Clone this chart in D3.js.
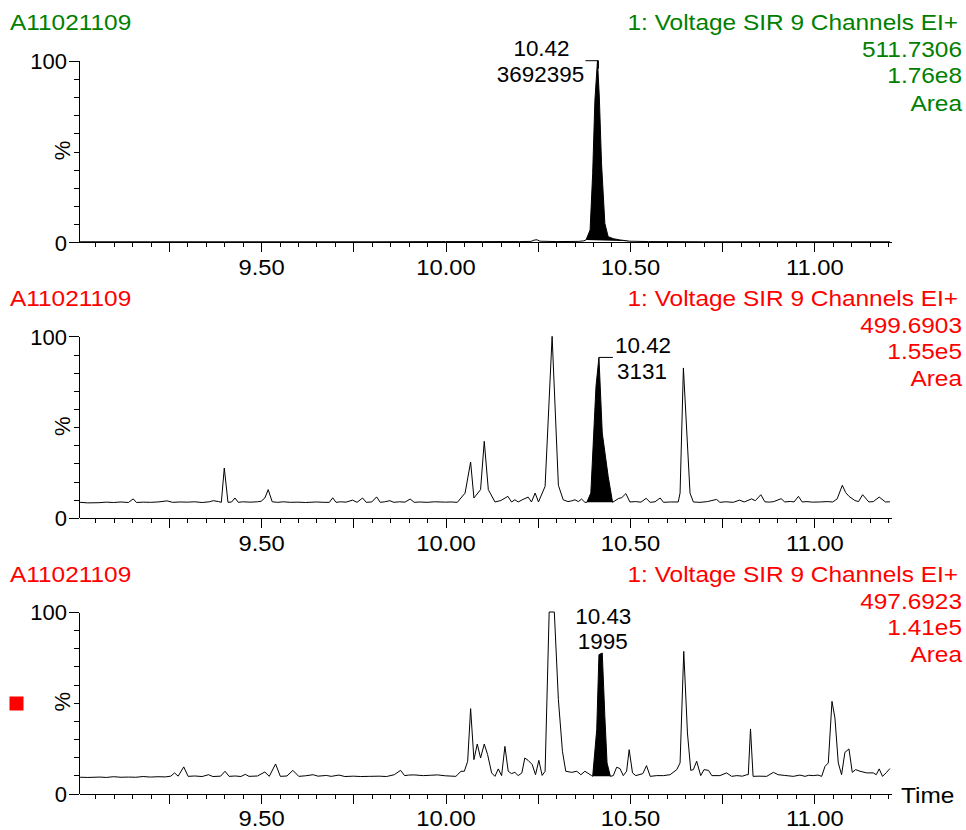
<!DOCTYPE html>
<html>
<head>
<meta charset="utf-8">
<script src="https://cdn.jsdelivr.net/npm/d3@7"></script>
<style>
  body { margin: 0; background: #fff; }
  svg { display: block; font-family: "Liberation Sans", Arial, sans-serif; }
</style>
</head>
<body>
<svg id="chart" width="966" height="830"></svg>
<script>
const sampleName = "A11021109";
const channelName = "1: Voltage SIR 9 Channels EI+";
const masses = ["511.7306", "499.6903", "497.6923"];
const intensities = ["1.76e8", "1.55e5", "1.41e5"];
const headerColors = ["#008000", "#ff0000", "#ff0000"];
const peakTimes = ["10.42", "10.42", "10.43"];
const peakAreas = ["3692395", "3131", "1995"];
const peakApex = [[10.412, 100], [10.416, 88.4], [10.425, 77.4]];
const fillRanges = [[10.381, 10.50], [10.383, 10.453], [10.399, 10.447]];
const xTickLabels = [9.5, 10.0, 10.5, 11.0];
const yTickLabels = [0, 100];

// [time (min), intensity %]
const trace1 = [
  [9.009, 0.3], [9.2, 0.3], [9.4, 0.3], [9.6, 0.3], [9.8, 0.3], [10.0, 0.4], [10.1, 0.4],
  [10.2, 0.4], [10.232, 0.5], [10.24, 1.2], [10.248, 1.4], [10.256, 0.6], [10.3, 0.4],
  [10.36, 0.5], [10.375, 0.8], [10.381, 1.3], [10.392, 6.8], [10.399, 38], [10.405, 78],
  [10.412, 100], [10.417, 80], [10.423, 43.5], [10.432, 10.4], [10.441, 3.1], [10.455, 2.0],
  [10.473, 1.3], [10.5, 0.6], [10.55, 0.4], [10.7, 0.3], [10.9, 0.3], [11.1, 0.3], [11.205, 0.3]
];

const trace2 = [
  [9.009, 8.6], [9.03, 8.3], [9.06, 8.4], [9.08, 8.7], [9.10, 8.5], [9.12, 8.8], [9.14, 8.5],
  [9.153, 10.5], [9.162, 8.5], [9.18, 8.7], [9.20, 8.6], [9.22, 8.8], [9.245, 9.4], [9.26, 8.6],
  [9.28, 8.8], [9.30, 8.7], [9.32, 8.9], [9.34, 8.5], [9.36, 8.9], [9.37, 9.5], [9.385, 9.0], [9.392, 8.6],
  [9.400, 27.5], [9.410, 8.6], [9.420, 8.8], [9.429, 11.0], [9.438, 8.6], [9.45, 8.9], [9.47, 8.7],
  [9.49, 8.9], [9.50, 9.2], [9.510, 11.0], [9.519, 15.6], [9.530, 8.9], [9.545, 8.6], [9.56, 8.9],
  [9.58, 8.6], [9.60, 8.7], [9.62, 8.5], [9.65, 8.8], [9.67, 8.6], [9.685, 8.6],
  [9.694, 11.1], [9.703, 8.6], [9.715, 8.9], [9.730, 8.7], [9.748, 9.8], [9.760, 8.6], [9.775, 11.0],
  [9.785, 8.6], [9.80, 8.8], [9.813, 11.6], [9.823, 8.6], [9.835, 8.9], [9.849, 9.5], [9.86, 8.6],
  [9.875, 8.9], [9.890, 8.7], [9.904, 10.4], [9.915, 8.6], [9.93, 8.8], [9.95, 8.6], [9.97, 8.9],
  [10.00, 8.7], [10.015, 8.8], [10.032, 8.6], [10.053, 13.7], [10.068, 30.8], [10.077, 11.0],
  [10.095, 15.6], [10.105, 42.2], [10.116, 15.6], [10.134, 8.8], [10.15, 9.6], [10.169, 11.9], [10.179, 8.8],
  [10.188, 10.0], [10.197, 8.8], [10.21, 10.2], [10.224, 11.5], [10.233, 8.8], [10.243, 13.7], [10.252, 8.8],
  [10.270, 17.4], [10.289, 100], [10.306, 18.0], [10.319, 10.0], [10.332, 9.0], [10.342, 9.4], [10.351, 10.0],
  [10.360, 9.0], [10.369, 10.4], [10.378, 8.6], [10.383, 8.6], [10.394, 13.7], [10.408, 72.4],
  [10.416, 88.4], [10.425, 46.8], [10.441, 22.9], [10.453, 8.6], [10.469, 10.7], [10.478, 11.2], [10.489, 13.4],
  [10.500, 8.8], [10.515, 9.0], [10.53, 8.7], [10.544, 10.8], [10.555, 8.6], [10.568, 8.9], [10.582, 11.0], [10.591, 8.6],
  [10.61, 8.8], [10.631, 8.8],
  [10.636, 13.7], [10.645, 82.6], [10.663, 13.7], [10.672, 8.8], [10.69, 8.6], [10.71, 9.0], [10.735, 10.2],
  [10.744, 8.6], [10.76, 8.9], [10.78, 8.6], [10.797, 9.8], [10.810, 8.8], [10.830, 10.5], [10.840, 9.5], [10.855, 12.8],
  [10.866, 8.9], [10.878, 8.7], [10.890, 9.0], [10.910, 10.6], [10.920, 8.8], [10.935, 9.1], [10.945, 8.8], [10.957, 11.9],
  [10.967, 8.8], [10.98, 9.0], [10.995, 8.7], [11.014, 8.8], [11.035, 9.0], [11.05, 8.8], [11.062, 10.5], [11.076, 18.0],
  [11.085, 14.0], [11.094, 11.9], [11.110, 9.6], [11.12, 9.0], [11.131, 12.8], [11.148, 8.8], [11.160, 9.0],
  [11.176, 11.5], [11.193, 8.8], [11.205, 8.9]
];

const trace3 = [
  [9.009, 9.0], [9.03, 8.9], [9.063, 9.1], [9.08, 8.9], [9.10, 9.3], [9.12, 9.0], [9.14, 9.1],
  [9.16, 9.0], [9.18, 9.4], [9.20, 9.1], [9.22, 9.3], [9.24, 9.2], [9.255, 9.6], [9.265, 11.4],
  [9.275, 9.6], [9.290, 14.7], [9.302, 9.5], [9.32, 9.7], [9.34, 9.4], [9.357, 10.4], [9.369, 9.4],
  [9.39, 9.6], [9.402, 12.3], [9.413, 9.5], [9.43, 9.7], [9.445, 9.4],
  [9.457, 10.6], [9.467, 9.5], [9.49, 9.7], [9.510, 11.9], [9.522, 9.5], [9.539, 16.3], [9.552, 9.5],
  [9.57, 9.7], [9.586, 12.8], [9.602, 9.5], [9.62, 9.8], [9.641, 10.4], [9.654, 9.6], [9.677, 10.0],
  [9.69, 9.5], [9.711, 10.2], [9.727, 9.4], [9.75, 9.6], [9.77, 9.4], [9.794, 9.5], [9.82, 9.6],
  [9.84, 9.4], [9.861, 10.4], [9.878, 12.8], [9.889, 9.9], [9.9, 10.2], [9.914, 10.3],
  [9.94, 9.9], [9.96, 10.1], [9.978, 10.3], [10.0, 9.8], [10.028, 9.5], [10.042, 12.3], [10.051, 12.3],
  [10.060, 17.8], [10.068, 46.8],
  [10.077, 18.7], [10.086, 27.3], [10.095, 19.6], [10.105, 27.3], [10.114, 21.5], [10.125, 11.4],
  [10.134, 9.5], [10.143, 13.6], [10.152, 9.9], [10.161, 26.0], [10.170, 12.3], [10.179, 11.0],
  [10.188, 11.7], [10.197, 9.9], [10.207, 11.4], [10.215, 19.6], [10.224, 18.3], [10.235, 16.0],
  [10.244, 10.4], [10.253, 18.3], [10.262, 10.0], [10.270, 12.3], [10.281, 100], [10.295, 100],
  [10.306, 51.7], [10.317, 23.3], [10.326, 12.3], [10.342, 11.7], [10.356, 12.3], [10.367, 10.4],
  [10.378, 12.3], [10.396, 9.9], [10.399, 9.5], [10.410, 35.2], [10.416, 76.5], [10.425, 77.4],
  [10.432, 42.5], [10.438, 16.9], [10.447, 9.5], [10.455, 9.9], [10.464, 14.5], [10.473, 13.8],
  [10.482, 9.9], [10.491, 12.3], [10.498, 24.2], [10.507, 11.4], [10.516, 9.9], [10.535, 11.0],
  [10.545, 15.4], [10.555, 9.5], [10.573, 9.9], [10.591, 9.9], [10.609, 10.4], [10.627, 13.2],
  [10.636, 16.9], [10.646, 78.3], [10.656, 33.4], [10.665, 12.8], [10.672, 13.2], [10.681, 17.8],
  [10.692, 9.9], [10.701, 13.2], [10.713, 12.8], [10.722, 9.9], [10.744, 9.9], [10.762, 11.4],
  [10.776, 9.5], [10.79, 9.9], [10.805, 9.6], [10.817, 10.4], [10.821, 10.4], [10.827, 35.6], [10.834, 9.5],
  [10.85, 9.6], [10.871, 9.5],
  [10.889, 11.7], [10.902, 10.4], [10.92, 10.0], [10.943, 9.5], [10.961, 10.2], [10.975, 9.5], [10.985, 10.1],
  [10.997, 9.9], [11.01, 10.2],
  [11.020, 9.5], [11.029, 15.0], [11.038, 16.9], [11.048, 50.8], [11.056, 41.6], [11.065, 16.9],
  [11.074, 10.4], [11.083, 22.7], [11.094, 24.6], [11.103, 11.7], [11.112, 13.2], [11.124, 12.3],
  [11.142, 11.4], [11.160, 11.4], [11.168, 10.4], [11.176, 13.6], [11.185, 9.5], [11.196, 11.7],
  [11.205, 13.8]
];

const traces = [trace1, trace2, trace3];

const svg = d3.select("#chart");
const fontSize = 22;
const stretch = 1.11; // reference header text is wider than Arial
const panelTop = 60.7, panelStep = 275.65, panelH = 181.6;
const x = d3.scaleLinear().domain([9.006, 11.208]).range([79, 891]);

// little helper for horizontally stretched labels
function label(g, px, py, str, anchor, color, sx) {
  return g.append("text")
    .attr("transform", `translate(${px},${py}) scale(${sx},1)`)
    .attr("text-anchor", anchor)
    .attr("fill", color)
    .style("font-size", fontSize + "px")
    .text(str);
}

traces.forEach((data, i) => {
  const top = panelTop + i * panelStep;
  const y = d3.scaleLinear().domain([0, 100]).range([top + panelH, top]);
  const g = svg.append("g");
  const col = headerColors[i];

  // header block
  const base = top - 30.5;
  label(g, 10, base, sampleName, "start", col, stretch);
  label(g, 958, base, channelName, "end", col, stretch);
  label(g, 962, base + 27, masses[i], "end", col, stretch);
  label(g, 962, base + 53.2, intensities[i], "end", col, stretch);
  label(g, 962, base + 80.4, "Area", "end", col, stretch);

  // x axis: minor every 0.05, medium every 0.25
  const xMinor = d3.axisBottom(x)
    .tickValues(d3.range(181, 225).map(k => k * 0.05))
    .tickSize(5).tickSizeOuter(0).tickFormat("");
  const xMajor = d3.axisBottom(x)
    .tickValues(d3.range(37, 45).map(k => k * 0.25))
    .tickSize(10).tickSizeOuter(0).tickPadding(7)
    .tickFormat(d => xTickLabels.some(v => Math.abs(v - d) < 1e-6) ? d3.format(".2f")(d) : "");
  const gx1 = g.append("g").attr("transform", `translate(0,${top + panelH})`).call(xMinor);
  const gx2 = g.append("g").attr("transform", `translate(0,${top + panelH})`).call(xMajor);
  gx2.selectAll("text")
    .style("font-size", fontSize + "px").style("font-family", "inherit")
    .attr("fill", "#000").attr("transform", "scale(1.08,1)");
  [gx1, gx2].forEach(a => {
    a.selectAll("line, path").attr("stroke", "#000").attr("shape-rendering", "crispEdges");
  });

  // y axis
  const yMinor = d3.axisLeft(y).tickValues(d3.range(1, 10).map(k => k * 10))
    .tickSize(5).tickSizeOuter(0).tickFormat("");
  const yMajor = d3.axisLeft(y).tickValues(yTickLabels)
    .tickSize(10).tickSizeOuter(0).tickPadding(2);
  const gy1 = g.append("g").attr("transform", "translate(79,0)").call(yMinor);
  const gy2 = g.append("g").attr("transform", "translate(79,0)").call(yMajor);
  gy2.selectAll("text")
    .style("font-size", fontSize + "px").style("font-family", "inherit")
    .attr("fill", "#000").attr("dy", "0.36em");
  [gy1, gy2].forEach(a => {
    a.selectAll("line, path").attr("stroke", "#000").attr("shape-rendering", "crispEdges");
  });

  g.append("text")
    .attr("transform", `translate(70,${top + panelH / 2 - 1}) rotate(-90)`)
    .attr("text-anchor", "middle")
    .style("font-size", fontSize + "px")
    .text("%");

  // integrated area
  const line = d3.line().x(d => x(d[0])).y(d => y(d[1]));
  const [fs, fe] = fillRanges[i];
  const inPeak = data.filter(d => d[0] >= fs - 1e-9 && d[0] <= fe + 1e-9);
  g.append("path").attr("d", line(inPeak) + "Z").attr("fill", "#000");

  // trace
  g.append("path").datum(data)
    .attr("d", line)
    .attr("fill", "none")
    .attr("stroke", "#000")
    .attr("stroke-width", 1);

  // peak annotation
  const ax = x(peakApex[i][0]), ay = y(peakApex[i][1]);
  if (i === 0) {
    g.append("path").attr("d", `M${ax - 12},${ay}H${ax + 1}V${ay + 8}`)
      .attr("fill", "none").attr("stroke", "#000");
    label(g, ax - 56, ay - 5, peakTimes[i], "middle", "#000", 1.02);
    label(g, ax - 57, ay + 21, peakAreas[i], "middle", "#000", 1.02);
  } else if (i === 1) {
    g.append("path").attr("d", `M${ax},${ay}H${ax + 14}`)
      .attr("fill", "none").attr("stroke", "#000");
    label(g, ax + 16, ay - 4, peakTimes[i], "start", "#000", 1.02);
    label(g, ax + 18, ay + 22, peakAreas[i], "start", "#000", 1.02);
  } else {
    label(g, ax + 1, ay - 29, peakTimes[i], "middle", "#000", 1.02);
    label(g, ax + 0.5, ay - 4, peakAreas[i], "middle", "#000", 1.02);
  }

  if (i === 2) {
    label(g, 901, top + panelH + 9, "Time", "start", "#000", stretch);
    g.append("rect").attr("x", 9.5).attr("y", top + 84.5)
      .attr("width", 14).attr("height", 14).attr("fill", "#ff0000");
  }
});
</script>
</body>
</html>
